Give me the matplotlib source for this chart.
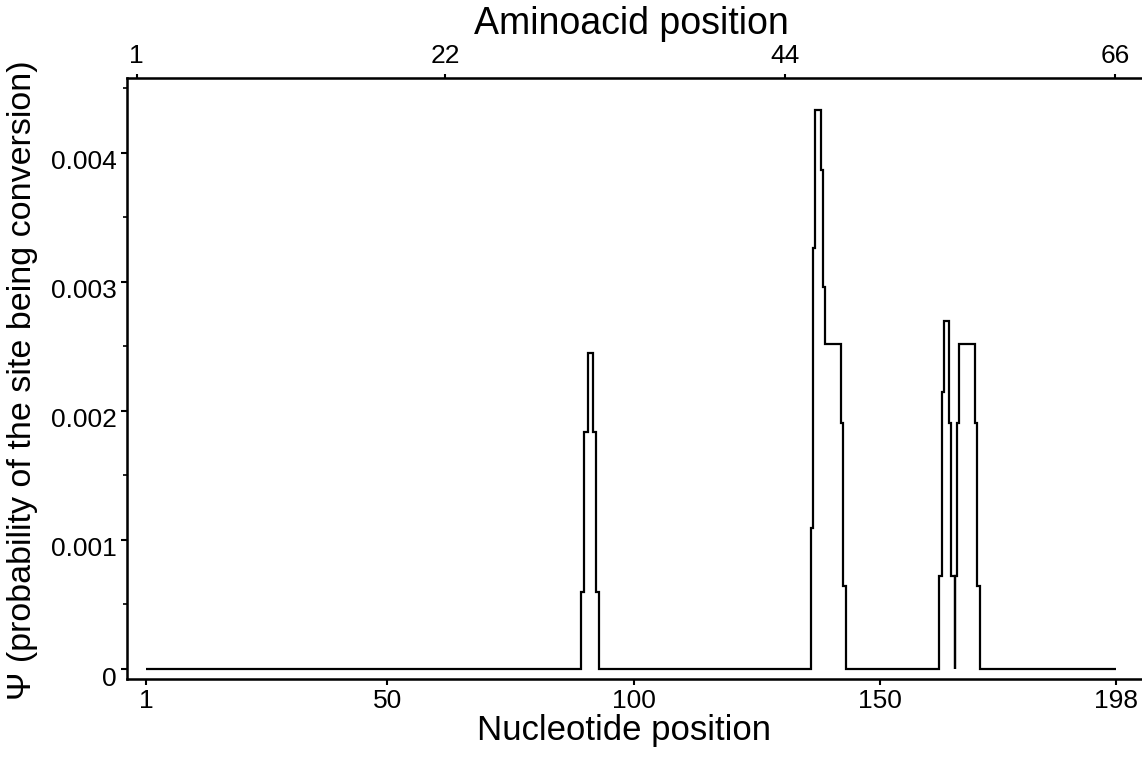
import matplotlib
matplotlib.use("Agg")
import matplotlib.pyplot as plt
import matplotlib.transforms as mtransforms
from matplotlib.ticker import MultipleLocator

plt.rcParams["font.family"] = ["Liberation Sans", "DejaVu Sans"]

# step edges (nucleotide position) and psi value on each step
edges = [1, 89.35, 90.0, 90.78, 91.74, 92.42, 92.9,
         135.9, 136.4, 136.8, 138.1, 138.4, 138.9, 142.0, 142.5, 143.0,
         162.05, 162.6, 162.93, 163.98, 164.5, 165.15, 165.2,
         165.66, 165.99, 169.26, 169.75, 170.2, 198]
psi = [0, 0.0006, 0.00184, 0.00245, 0.00184, 0.0006,
       0, 0.00109, 0.00326, 0.00433, 0.00387, 0.00296, 0.00252, 0.00191, 0.00064,
       0, 0.00072, 0.00215, 0.0027, 0.00191, 0.00072, 0,
       0.00072, 0.00191, 0.00252, 0.00191, 0.00064, 0]

nt_ticks = [1, 50, 100, 150, 198]
y_ticks = [0, 0.001, 0.002, 0.003, 0.004]
y_labels = ["0", "0.001", "0.002", "0.003", "0.004"]
aa_tick_pos = [-0.9, 61.7, 130.8, 197.75]
aa_labels = ["1", "22", "44", "66"]

fig = plt.figure(figsize=(11.42, 7.65), dpi=100)
ax = fig.add_axes([0.1112, 0.1124, 0.8888 + 0.01, 0.7856])

ax.stairs(psi, edges, baseline=None, color="black", linewidth=1.6)

ax.set_xlim(-2.88, 205.5)
ax.set_ylim(-0.0000775, 0.00458)

ax.set_xticks(nt_ticks)
ax.set_yticks(y_ticks)
ax.set_yticklabels(y_labels)
ax.yaxis.set_minor_locator(MultipleLocator(0.0005))
ax.tick_params(axis="both", labelsize=19, width=1.5, length=4, direction="out", color="black")
ax.tick_params(axis="x", pad=3)
ax.tick_params(axis="y", pad=3.5)
ax.tick_params(axis="y", which="minor", length=3, width=1.2)
ax.spines["right"].set_visible(False)
for s in ["left", "bottom", "top"]:
    ax.spines[s].set_linewidth(1.8)

# y tick labels sit a little below their ticks in the original
shift = mtransforms.ScaledTranslation(0, -0.07, fig.dpi_scale_trans)
for lab in ax.get_yticklabels():
    lab.set_transform(lab.get_transform() + shift)

ax.set_xlabel("Nucleotide position", fontsize=25)
ax.xaxis.set_label_coords(0.484, -0.085)
ax.xaxis.label.set_va("center")
ax.set_ylabel("Ψ (probability of the site being conversion)", fontsize=24.5)
ax.yaxis.set_label_coords(-0.102, 0.497)
ax.yaxis.label.set_va("center")

ax2 = ax.twiny()
ax2.set_xlim(ax.get_xlim())
ax2.set_xticks(aa_tick_pos)
ax2.set_xticklabels(aa_labels)
ax2.tick_params(axis="x", labelsize=19, width=1.5, length=3, pad=4)
ax2.spines["right"].set_visible(False)
ax2.set_xlabel("Aminoacid position", fontsize=27)
ax2.xaxis.set_label_coords(0.491, 1.09)
ax2.xaxis.label.set_va("center")

fig.savefig("out.png", dpi=100)
